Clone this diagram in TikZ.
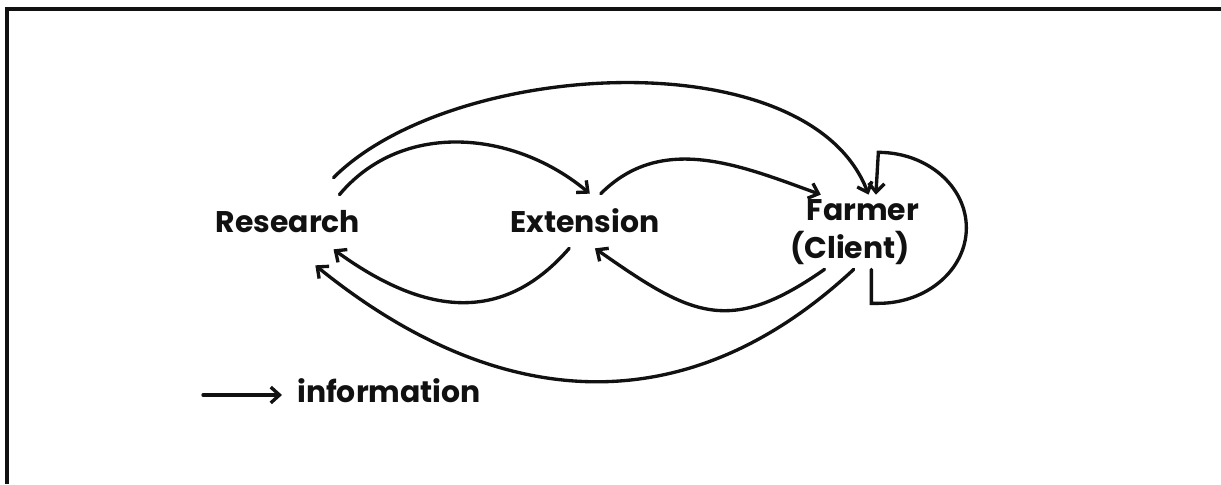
\documentclass[tikz,border=0pt]{standalone}
\usepackage{fontspec}
\setmainfont{Poppins}
\usetikzlibrary{arrows.meta}
\definecolor{scanink}{HTML}{111111}

\begin{document}
\begin{tikzpicture}[
  x=0.02cm,
  y=0.02cm,
  every node/.style={font=\fontsize{17}{20}\selectfont\bfseries, scanink},
  frame/.style={scanink, line width=2.3pt},
  flow/.style={scanink, line width=1.9pt, line cap=round,
               -{Straight Barb[length=5pt,width=9pt]}},
  actor/.style={inner sep=0pt}
]
  \useasboundingbox (0,0) rectangle (1221,484);

  % ---- the frame, only its top and left edges ----
  \draw[frame] (7,0) -- (7,475) -- (1221,475);

  % ---- the three parties ----
  \node[actor, minimum width=3cm,   minimum height=1.08cm] (res)    at (288,262) {Research};
  \node[actor, minimum width=3.2cm, minimum height=1.08cm] (ext)    at (585,263) {Extension};
  \node[actor, minimum width=2.48cm, minimum height=0.6cm] (farmer) at (863,274) {Farmer};
  \node[actor, minimum width=2.6cm, minimum height=0.84cm] (client) at (850,236) {(Client)};

  % ---- flows over the top ----
  \draw[flow] (res.28) to[out=50, in=140] (ext.80);
  \draw[flow] ([shift={(0,17)}]res.31) to[out=45, in=111, looseness=0.8] (farmer.70);
  \draw[flow] (ext.60) to[out=45, in=160] (farmer.160);

  % ---- flows back underneath ----
  \draw[flow] (client.220) to[out=-145, in=-35, looseness=1.3] (ext.-70);
  \draw[flow] (ext.-120) to[out=-131, in=-36, looseness=1.15] (res.-31);
  \draw[flow] (client.-80) to[out=-137, in=-39, looseness=1.1]
    ([shift={(0,-16)}]res.-45);

  % ---- the farmer talking to himself ----
  \draw[flow] (client.-45) -- ++(0,-34) -- ++(7,0)
    arc[start angle=-90, end angle=90, x radius=88, y radius=75.5]
    -- (farmer.50);

  % ---- key ----
  \coordinate (legstart) at (203,89);
  \node[anchor=west, inner xsep=8.5pt] (info) at (282,93) {information};
  \draw[flow] (legstart) -- (legstart -| info.west);
\end{tikzpicture}
\end{document}
